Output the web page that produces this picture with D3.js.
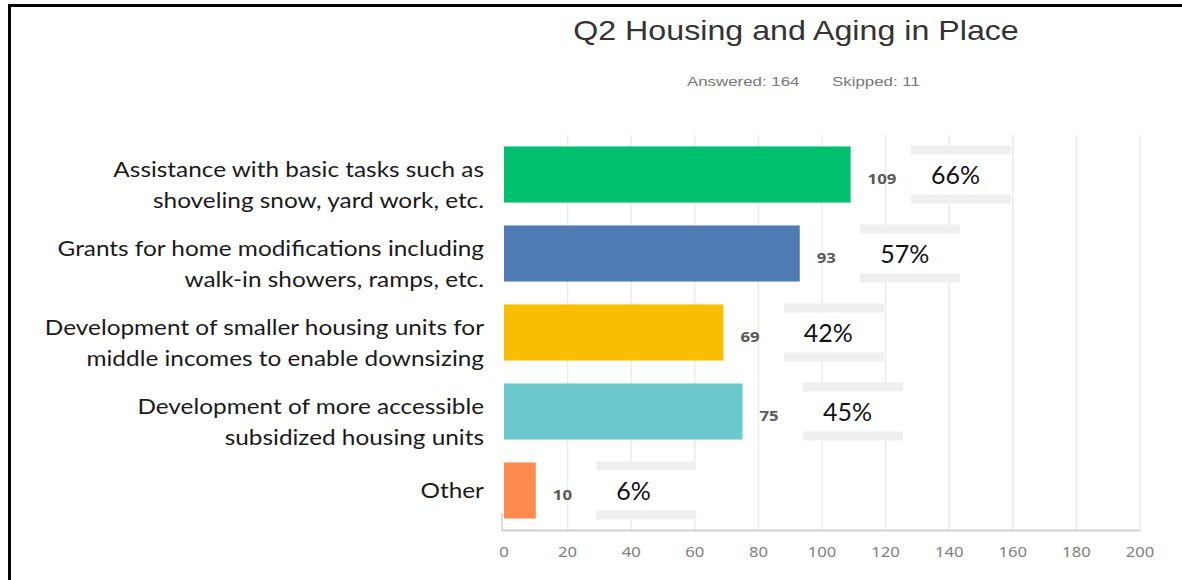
<!DOCTYPE html>
<meta charset="utf-8">
<head>
  <title>Q2 Housing and Aging in Place</title>
</head>
<style>
body { margin: 0; background: #fff; }
.grid line { stroke: #ebebeb; stroke-width: 1.5px; }
.tick-label { font-family: "Noto Sans", sans-serif; font-size: 14.5px; fill: #808080; }
.cat { font-family: Lato, sans-serif; font-size: 21px; fill: #1a1a1a; }
.val { font-family: "Noto Sans", sans-serif; font-size: 14px; font-weight: bold; fill: #5a5a5a; }
.pct { font-family: Lato, sans-serif; font-size: 25px; fill: #111; }
.sub { font-family: "Liberation Sans", Arial, sans-serif; font-size: 13.5px; fill: #777; }
</style>
<body>
<svg width="1182" height="580"></svg>
<script src="https://cdnjs.cloudflare.com/ajax/libs/d3/7.8.5/d3.min.js"></script>
<script>
var categories = [
  ["Assistance with basic tasks such as", "shoveling snow, yard work, etc."],
  ["Grants for home modifications including", "walk-in showers, ramps, etc."],
  ["Development of smaller housing units for", "middle incomes to enable downsizing"],
  ["Development of more accessible", "subsidized housing units"],
  ["Other"]
];
var counts = [109, 93, 69, 75, 10];
var percents = ["66%", "57%", "42%", "45%", "6%"];
var colors = ["#00bf6f", "#507cb6", "#f9be00", "#6bc8cd", "#ff8b4f"];
var ticks = [0, 20, 40, 60, 80, 100, 120, 140, 160, 180, 200];

var svg = d3.select("svg");

// frame (left and top edges only)
svg.append("path")
  .attr("d", "M9.5,580 V5.5 H1182")
  .attr("fill", "none")
  .attr("stroke", "#000")
  .attr("stroke-width", 3);

// title, slightly stretched like the screenshot
svg.append("text")
  .attr("transform", "translate(796,40) scale(1.13,1)")
  .attr("text-anchor", "middle")
  .style("font-family", "'Liberation Sans', Arial, sans-serif")
  .style("font-size", "28.5px")
  .style("fill", "#333")
  .text("Q2 Housing and Aging in Place");

svg.append("text")
  .attr("class", "sub")
  .attr("transform", "translate(687,86) scale(1.25,1)")
  .text("Answered: 164");
svg.append("text")
  .attr("class", "sub")
  .attr("transform", "translate(832,86) scale(1.25,1)")
  .text("Skipped: 11");

var x = d3.scaleLinear().domain([0, 200]).range([504, 1140]);
var y = d3.scaleBand()
  .domain(d3.range(counts.length))
  .range([135, 530])
  .paddingInner(0.29)
  .paddingOuter(0.145);

// grid
svg.append("g").attr("class", "grid")
  .selectAll("line")
  .data(ticks.slice(1))
  .enter().append("line")
  .attr("x1", function(d) { return x(d); })
  .attr("x2", function(d) { return x(d); })
  .attr("y1", 135)
  .attr("y2", 530);

// baseline
svg.append("line")
  .attr("x1", 502).attr("x2", x(200))
  .attr("y1", 530.5).attr("y2", 530.5)
  .attr("stroke", "#d0d0d0").attr("stroke-width", 2);

svg.append("line")
  .attr("x1", 502).attr("x2", 502)
  .attr("y1", 513).attr("y2", 531)
  .attr("stroke", "#d0d0d0").attr("stroke-width", 1.5);

// tick labels
svg.append("g")
  .selectAll("text")
  .data(ticks)
  .enter().append("text")
  .attr("class", "tick-label")
  .attr("transform", function(d) { return "translate(" + x(d) + ",557) scale(1.15,1)"; })
  .attr("text-anchor", "middle")
  .text(function(d) { return d; });

// bars
svg.append("g")
  .selectAll("rect")
  .data(counts)
  .enter().append("rect")
  .attr("x", x(0))
  .attr("y", function(d, i) { return y(i); })
  .attr("width", function(d) { return x(d) - x(0); })
  .attr("height", y.bandwidth())
  .attr("fill", function(d, i) { return colors[i]; });

// count labels
svg.append("g")
  .selectAll("text")
  .data(counts)
  .enter().append("text")
  .attr("class", "val")
  .attr("transform", function(d, i) {
    return "translate(" + (x(d) + 17) + "," + (y(i) + y.bandwidth() / 2 + 9) + ") scale(1.2,1)";
  })
  .text(function(d) { return d; });

// percent boxes pasted on top
var box = svg.append("g")
  .selectAll("g")
  .data(counts)
  .enter().append("g")
  .attr("transform", function(d, i) {
    return "translate(" + x(d + 19) + "," + (y(i) - 1) + ")";
  });

box.append("rect")
  .attr("width", 100).attr("height", 58)
  .attr("fill", "#fff");
box.append("rect")
  .attr("width", 100).attr("height", 9)
  .attr("fill", "#efefef");
box.append("rect")
  .attr("y", 49)
  .attr("width", 100).attr("height", 9)
  .attr("fill", "#efefef");
box.append("text")
  .attr("class", "pct")
  .attr("x", 20).attr("y", 39)
  .text(function(d, i) { return percents[i]; });

// category labels
var cat = svg.append("g")
  .selectAll("text")
  .data(categories)
  .enter().append("text")
  .attr("class", "cat")
  .attr("text-anchor", "end")
  .attr("transform", function(d, i) {
    var c = y(i) + y.bandwidth() / 2;
    var off = d.length > 1 ? 11 : 0;
    return "translate(484," + (c + off) + ") scale(1.16,1)";
  });

cat.selectAll("tspan")
  .data(function(d) { return d; })
  .enter().append("tspan")
  .attr("x", 0)
  .attr("y", function(d, j, nodes) {
    return (j - (nodes.length - 1) / 2) * 32 + 7;
  })
  .text(function(d) { return d; });
</script>
</body>
</html>
